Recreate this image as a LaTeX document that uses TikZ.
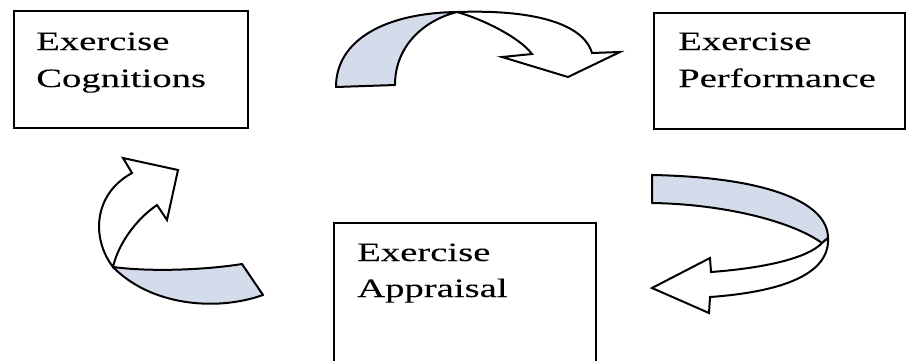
\documentclass[tikz,border=0pt]{standalone}
\usepackage{fontspec}
\setmainfont[FakeStretch=1.46,FakeBold=0.12]{Liberation Serif}
\definecolor{ribbon}{RGB}{212,220,235}
\begin{document}
\begin{tikzpicture}[x=1pt,y=-1pt,
  box/.style={draw=black,line width=1.8pt,inner sep=0pt,anchor=north west},
  lbl/.style={inner sep=0pt,anchor=base west,font=\fontsize{26.5}{37}\selectfont},
  band/.style={draw=black,line width=2pt,fill=ribbon,line join=round},
  face/.style={draw=black,line width=2pt,fill=white,line join=miter}]
\useasboundingbox (0,0) rectangle (906,360);
\fill[white] (0,0) rectangle (906,360);
% boxes
\node[box,minimum width=234pt,minimum height=117pt] (cog) at (13,10) {};
\node[box,minimum width=251pt,minimum height=116pt] (perf) at (653,12) {};
\node[box,minimum width=262pt,minimum height=150pt] (appr) at (333,222) {};
% labels
\node[lbl] (cog1) at (36,50) {Exercise};
\node[lbl] (cog2) at (36,87) {Cognitions};
\node[lbl] (perf1) at (678,50) {Exercise};
\node[lbl] (perf2) at (678,87) {Performance};
\node[lbl] (appr1) at (357,261) {Exercise};
\node[lbl] (appr2) at (357,297) {Appraisal};
% top arrow (cognitions -> performance)
\draw[band] (336,87) .. controls (336,40) and (385,13) .. (457,12)
  .. controls (425,20) and (395,45) .. (395,85) -- cycle;
\draw[face] (457,12) .. controls (545,9) and (585,28) .. (592,53)
  -- (620,52) -- (568,77) -- (502,57) -- (532,54)
  .. controls (520,38) and (485,20) .. (457,12) -- cycle;
% right arrow (performance -> appraisal)
\draw[band] (652,175) .. controls (760,177) and (828,200) .. (828,238)
  -- (822,243) .. controls (790,220) and (720,204) .. (652,203) -- cycle;
\draw[face] (828,238) .. controls (830,275) and (780,292) .. (710,297)
  -- (709,313) -- (652,288) -- (710,258) -- (711,272)
  .. controls (765,268) and (808,258) .. (822,243) -- cycle;
% left arrow (appraisal -> cognitions)
\draw[band] (113,267) .. controls (150,272) and (205,270) .. (242,264)
  -- (263,295) .. controls (215,312) and (150,305) .. (113,267) -- cycle;
\draw[face] (113,267) .. controls (92,240) and (92,195) .. (132,173)
  -- (123,158) -- (178,170) -- (167,220) -- (157,205)
  .. controls (135,220) and (118,245) .. (113,267) -- cycle;
\end{tikzpicture}
\end{document}
